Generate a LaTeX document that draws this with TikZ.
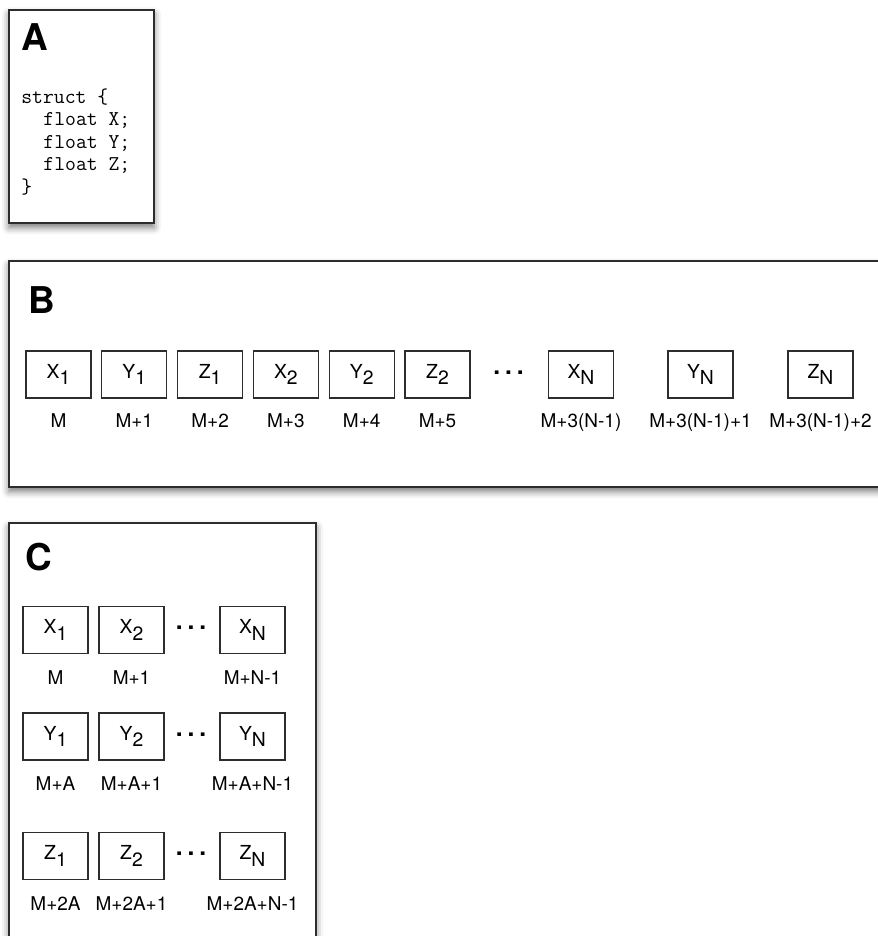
\documentclass[tikz,border=0pt]{standalone}
\usepackage{fontspec}
\setmainfont{TeX Gyre Heros}
\usetikzlibrary{positioning,shadows.blur}
\definecolor{framegrey}{RGB}{45,45,45}
\newcommand{\elem}[2]{#1\raisebox{-3.6pt}{#2}\hspace{5pt}}

\begin{document}
\begin{tikzpicture}[x=0.02cm, y=-0.02cm,
    panel/.style={draw=framegrey, line width=1.1pt, fill=white,
        blur shadow={shadow xshift=0pt, shadow yshift=-2.5pt,
            shadow blur radius=4pt, shadow opacity=55}},
    cell/.style={rectangle, draw=framegrey, line width=0.7pt,
        minimum width=1.3cm, minimum height=0.94cm, inner sep=0pt,
        font=\fontsize{11}{13}\selectfont},
    addr/.style={anchor=base, inner sep=0pt, font=\fontsize{10.8}{13}\selectfont},
    tag/.style={anchor=north west, inner sep=0pt, font=\fontsize{21}{24}\selectfont\bfseries},
    gap/.style={inner sep=0pt, font=\fontsize{14}{14}\selectfont\bfseries}
]
    \useasboundingbox (0,0) rectangle (878,936);
    \clip (0,0) rectangle (878,936);

    % Panel A: the struct
    \draw[panel] (9,10) rectangle (154,223);
    \node[tag] (tagA) at (21,23) {A};
    \node[anchor=base west, inner sep=0pt, align=left,
        font=\fontsize{12}{12.75}\selectfont\ttfamily] (code) at (21,193)
        {struct \{\\\hspace*{1.05em}float X;\\\hspace*{1.05em}float Y;\\\hspace*{1.05em}float Z;\\\}};

    % Panel B: interleaved layout
    \draw[panel] (9,261) rectangle (900,487);
    \node[tag] (tagB) at (28,286) {B};
    \foreach \nm/\ix/\ad [count=\k from 0] in
        {X/1/M, Y/1/M+1, Z/1/M+2, X/2/M+3, Y/2/M+4, Z/2/M+5}{
        \node[cell] (b\k) at (58.5+75.8*\k,374.5) {\elem{\nm}{\ix}};
        \node[addr] (ba\k) at (58.5+75.8*\k,427) {\ad};
    }
    \node[gap] (bdots) at (508.5,373) {.\hspace{2.8pt}.\hspace{2.8pt}.};
    \foreach \nm/\xc/\ad in
        {X/581/M+3(N-1), Y/700.5/M+3(N-1)+1, Z/820.5/M+3(N-1)+2}{
        \node[cell] (b\nm N) at (\xc,374.5) {\elem{\nm}{N}};
        \node[addr] (ba\nm N) at (\xc,427) {\ad};
    }

    % Panel C: one array per component
    \draw[panel] (9,523) rectangle (316,960);
    \node[tag] (tagC) at (25,543) {C};
    \foreach \nm/\ry/\aa/\ab/\an in
        {X/630/M/M+1/M+N-1, Y/736.5/M+A/M+A+1/M+A+N-1, Z/856/M+2A/M+2A+1/M+2A+N-1}{
        \node[cell] (c\nm1) at (55.5,\ry) {\elem{\nm}{1}};
        \node[cell] (c\nm2) at (131.5,\ry) {\elem{\nm}{2}};
        \node[cell] (c\nm N) at (252.5,\ry) {\elem{\nm}{N}};
        \node[gap] (c\nm dots) at (191,\ry-2) {.\hspace{2.8pt}.\hspace{2.8pt}.};
        \node[addr] (ca\nm1) at (55.5,\ry+54) {\aa};
        \node[addr] (ca\nm2) at (131.5,\ry+54) {\ab};
        \node[addr] (ca\nm N) at (252.5,\ry+54) {\an};
    }
\end{tikzpicture}
\end{document}
